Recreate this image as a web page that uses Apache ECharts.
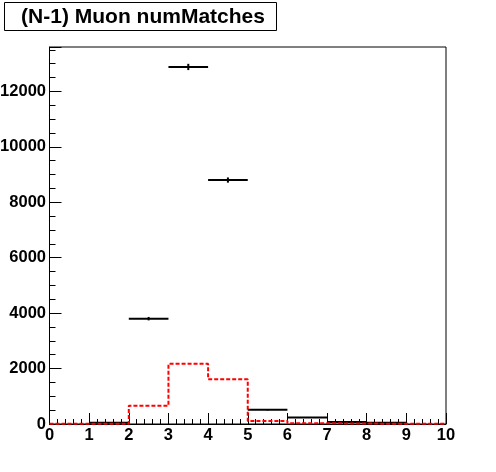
<!DOCTYPE html>
<html><head><meta charset="utf-8">
<script src="https://cdn.jsdelivr.net/npm/echarts@6/dist/echarts.min.js"></script>
<style>html,body{margin:0;padding:0;background:#fff}#c{width:496px;height:472px}</style>
</head><body><div id="c"></div>
<script>
const title = "(N-1) Muon numMatches";
const binEdges = [0,1,2,3,4,5,6,7,8,9,10];
const dataValues = [0, 45, 3800, 12880, 8800, 510, 235, 75, 48, 0];
const dataErrors = [0, 7, 62, 113, 94, 23, 15, 9, 7, 0];
const mcValues = [5, 8, 660, 2170, 1615, 108, 28, 15, 10, 5];
const xTicks = [0,1,2,3,4,5,6,7,8,9,10];
const yMax = 13600;

const dataPts = [];
for (let i = 0; i < dataValues.length; i++) {
  if (dataValues[i] > 0) dataPts.push([binEdges[i], binEdges[i+1], dataValues[i], dataErrors[i]]);
}
const mcStep = [];
for (let i = 0; i < mcValues.length; i++) mcStep.push([binEdges[i], mcValues[i]]);
mcStep.push([binEdges[binEdges.length-1], mcValues[mcValues.length-1]]);

const lbl = {fontFamily:'Liberation Sans, Arial, sans-serif', fontWeight:'bold', fontSize:16.5, color:'#000'};
const chart = echarts.init(document.getElementById('c'), null, {renderer:'canvas'});
chart.setOption({
  animation:false,
  backgroundColor:'#fff',
  grid:{left:49.5, right:50, top:47, bottom:48, show:true, borderColor:'#000', borderWidth:1, backgroundColor:'transparent', containLabel:false, outerBoundsMode:'none'},
  graphic:[
    {type:'rect', shape:{x:4.5, y:2.5, width:272, height:28}, style:{fill:'#fff', stroke:'#000', lineWidth:1}, z:10},
    {type:'text', x:143, y:17, style:{text:title, fill:'#000', font:'bold 21px "Liberation Sans", Arial, sans-serif', textAlign:'center', textVerticalAlign:'middle'}, z:11}
  ],
  xAxis:{type:'value', min:0, max:10, interval:1,
    axisLine:{show:true, onZero:false, lineStyle:{color:'#000', width:1}},
    axisTick:{show:true, inside:true, length:11, lineStyle:{color:'#000', width:1}},
    minorTick:{show:true, splitNumber:5, length:5, lineStyle:{color:'#000', width:1}},
    splitLine:{show:false}, minorSplitLine:{show:false},
    axisLabel:Object.assign({margin:3, showMinLabel:true, showMaxLabel:true, formatter:v=>xTicks.includes(v)?String(v):''}, lbl)
  },
  yAxis:[
    {type:'value', min:0, max:yMax, interval:2000, position:'left',
      axisLine:{show:true, onZero:false, lineStyle:{color:'#000', width:1}},
      axisTick:{show:true, inside:true, length:12, lineStyle:{color:'#000', width:1}},
      splitLine:{show:false},
      axisLabel:Object.assign({margin:3.5, formatter:v=>(v%2000===0)?String(v):''}, lbl)
    },
    {type:'value', min:0, max:yMax, interval:500, position:'left', offset:0,
      axisLine:{show:false},
      axisTick:{show:true, inside:true, length:6, lineStyle:{color:'#000', width:1}},
      splitLine:{show:false}, axisLabel:{show:false}
    }
  ],
  series:[
    {type:'custom', xAxisIndex:0, yAxisIndex:0, data:dataPts, z:3,
      encode:{x:[0,1], y:2},
      renderItem:function(params, api){
        const lo=api.value(0), hi=api.value(1), v=api.value(2), e=api.value(3);
        const mid=(lo+hi)/2;
        const a=api.coord([lo,v]), b=api.coord([hi,v]);
        const t=api.coord([mid,v+e]), u=api.coord([mid,v-e]);
        return {type:'group', children:[
          {type:'line', shape:{x1:a[0],y1:a[1],x2:b[0],y2:b[1]}, style:{stroke:'#000', lineWidth:2}},
          {type:'line', shape:{x1:t[0],y1:t[1],x2:u[0],y2:u[1]}, style:{stroke:'#000', lineWidth:2}}
        ]};
      }
    },
    {type:'line', xAxisIndex:0, yAxisIndex:0, data:mcStep, step:'end', symbol:'none', z:4,
      lineStyle:{color:'#ff0000', width:2, type:[4,2]}}
  ]
});
</script></body></html>
